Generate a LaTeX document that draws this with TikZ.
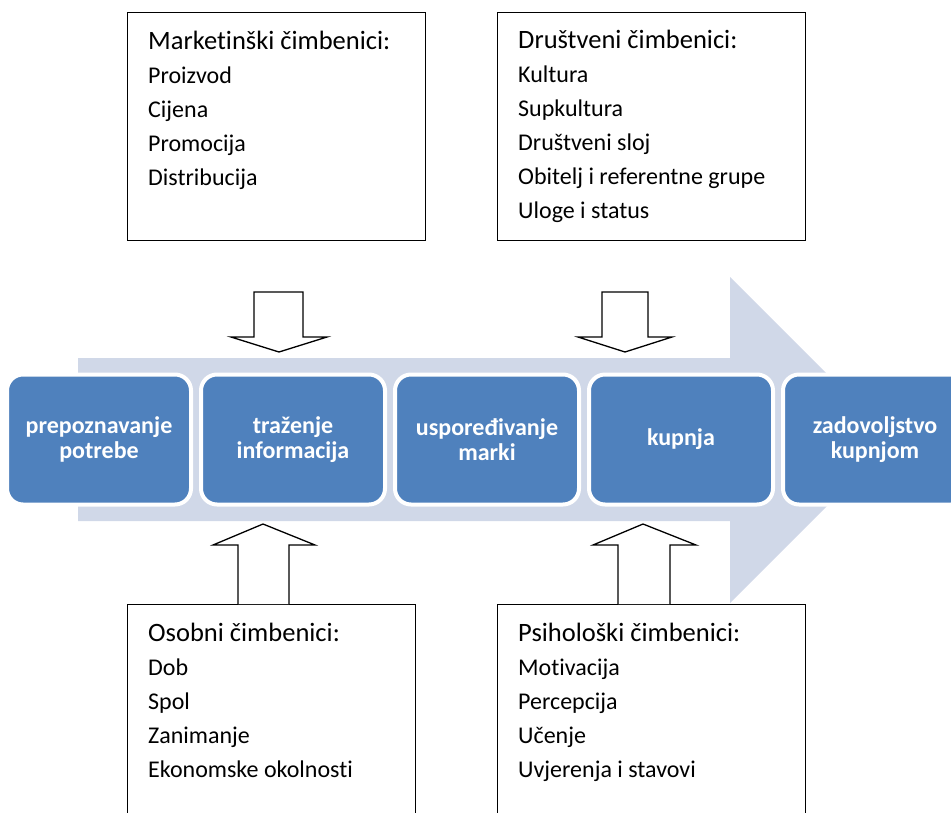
\documentclass[tikz,border=0pt]{standalone}
\usepackage{fontspec}
\setmainfont{Carlito}[Ligatures=NoCommon]
\usetikzlibrary{positioning}
\definecolor{stageBlue}{RGB}{79,129,189}
\definecolor{flowGrey}{RGB}{208,216,232}
\newcommand\factHead[1]{{\fontsize{26.5}{34}\selectfont #1}}

\begin{document}
\begin{tikzpicture}[x=1pt, y=-1pt,
  stage/.style={draw=white, line width=4pt, fill=stageBlue, rounded corners=16pt, minimum width=184pt, minimum height=130pt, inner sep=0pt, text=white, align=center, font=\fontsize{24}{25}\selectfont\bfseries},
  factbox/.style={draw=black, line width=1.3pt, anchor=north west, inner sep=0pt},
  facts/.style={anchor=base west, align=left, inner sep=0pt, font=\fontsize{24}{34}\selectfont},
  hollow/.style={draw=black, line width=1.3pt, fill=white, line join=miter}]
  \useasboundingbox (0,0) rectangle (951,812);
  \clip (0,0) rectangle (951,812);
  % big flow arrow behind the stages
  \fill[flowGrey] (78,358) -- (730,358) -- (730,277) -- (893,440) -- (730,603) -- (730,521) -- (78,521) -- cycle;
  % stages
  \node[stage] (need) at (99,439.5) {prepoznavanje\\potrebe};
  \node[stage, right=6pt of need] (search) {traženje\\informacija};
  \node[stage, right=6pt of search] (compare) {uspoređivanje\\marki};
  \node[stage, right=6pt of compare] (buy) {kupnja};
  \node[stage, right=6pt of buy] (content) {zadovoljstvo\\kupnjom};
  % factor boxes (text placed by its last baseline)
  \node[factbox, minimum width=298pt, minimum height=228pt] (mkt) at (127,12) {};
  \node[facts] (mkttext) at (148,185) {\factHead{Marketinški čimbenici:}\\Proizvod\\Cijena\\Promocija\\Distribucija};
  \node[factbox, minimum width=308pt, minimum height=228pt] (soc) at (497,12) {};
  \node[facts] (soctext) at (518,218) {\factHead{Društveni čimbenici:}\\Kultura\\Supkultura\\Društveni sloj\\Obitelj i referentne grupe\\Uloge i status};
  \node[factbox, minimum width=288pt, minimum height=240pt] (pers) at (127,604) {};
  \node[facts] (perstext) at (148,777) {\factHead{Osobni čimbenici:}\\Dob\\Spol\\Zanimanje\\Ekonomske okolnosti};
  \node[factbox, minimum width=308pt, minimum height=240pt] (psy) at (497,604) {};
  \node[facts] (psytext) at (518,777) {\factHead{Psihološki čimbenici:}\\Motivacija\\Percepcija\\Učenje\\Uvjerenja i stavovi};
  % hollow arrows
  \draw[hollow] (254,292) -- (303,292) -- (303,337) -- (327,337) -- (279,352) -- (231,337) -- (254,337) -- cycle;
  \draw[hollow] (602,292) -- (648,292) -- (648,337) -- (672,337) -- (625,352) -- (578,337) -- (602,337) -- cycle;
  \draw[hollow] (238,604) -- (238,545) -- (213,545) -- (263,524) -- (315,545) -- (289,545) -- (289,604);
  \draw[hollow] (618,604) -- (618,545) -- (593,545) -- (643,524) -- (696,545) -- (670,545) -- (670,604);
\end{tikzpicture}
\end{document}
